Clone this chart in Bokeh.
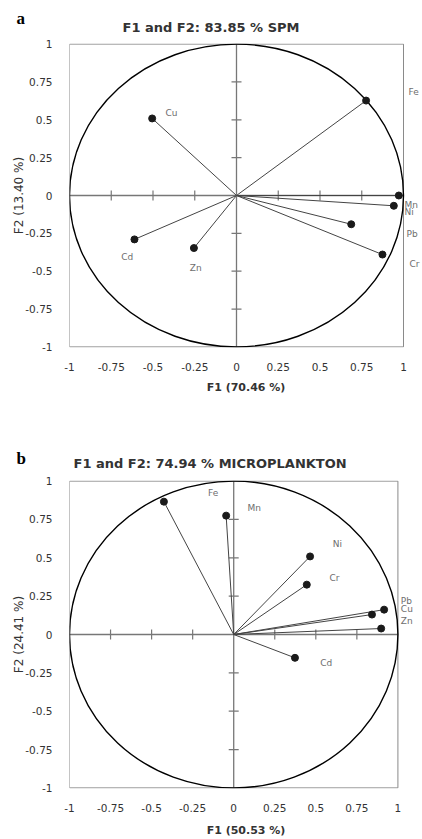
import math
from bokeh.plotting import figure
from bokeh.layouts import column
from bokeh.models import Range1d, FixedTicker, Title
from bokeh.core.properties import value
from bokeh.embed import file_html
from bokeh.resources import INLINE

# ---------------- data ----------------
ticks = [-1, -0.75, -0.5, -0.25, 0, 0.25, 0.5, 0.75, 1]
tick_labels = ["-1", "-0.75", "-0.5", "-0.25", "0", "0.25", "0.5", "0.75", "1"]
inner_ticks = [-0.75, -0.5, -0.25, 0.25, 0.5, 0.75]

# Panel a: SPM
a_vars = ["Fe", "Cu", "Mn", "Ni", "Pb", "Cr", "Cd", "Zn"]
a_f1 = [0.776, -0.505, 0.972, 0.942, 0.687, 0.874, -0.611, -0.255]
a_f2 = [0.627, 0.509, 0.0, -0.068, -0.19, -0.39, -0.29, -0.347]
a_lab_x = [1.03, -0.425, 1.006, 1.006, 1.018, 1.036, -0.69, -0.28]
a_lab_y = [0.684, 0.546, -0.066, -0.11, -0.257, -0.454, -0.408, -0.48]
a_title = "F1 and F2: 83.85 % SPM"
a_xlab = "F1 (70.46 %)"
a_ylab = "F2 (13.40 %)"

# Panel b: Microplankton
b_vars = ["Fe", "Mn", "Ni", "Cr", "Pb", "Cu", "Zn", "Cd"]
b_f1 = [-0.425, -0.046, 0.465, 0.445, 0.916, 0.842, 0.898, 0.373]
b_f2 = [0.866, 0.775, 0.509, 0.325, 0.162, 0.130, 0.039, -0.152]
b_lab_x = [-0.156, 0.084, 0.603, 0.583, 1.018, 1.018, 1.018, 0.527]
b_lab_y = [0.922, 0.825, 0.59, 0.367, 0.216, 0.169, 0.088, -0.184]
b_title = "F1 and F2: 74.94 % MICROPLANKTON"
b_xlab = "F1 (50.53 %)"
b_ylab = "F2 (24.41 %)"

W = 422
UNIT = 167.0
FONT = "DejaVu Sans"


def panel(vars_, f1, f2, lx, ly, title, t_off, t_stand, xlab, ylab, xlab_stand,
          height, left, top, frame_h, letter, l_off, l_stand):
    frame_w = W - left
    x_end = -1 + frame_w / UNIT
    p = figure(width=W, height=height, output_backend="svg", toolbar_location=None,
               x_range=Range1d(-1, x_end), y_range=Range1d(-1.004, 1.004),
               min_border_left=left, min_border_right=0,
               min_border_top=top, min_border_bottom=height - top - frame_h)
    p.outline_line_color = None
    p.grid.visible = False
    p.background_fill_color = "white"

    # panel letter (outermost title)
    p.title.text = letter
    p.title.align = "left"
    p.title.offset = l_off
    p.title.text_font = "Liberation Serif"
    p.title.text_font_size = "17px"
    p.title.text_font_style = "bold"
    p.title.text_color = "black"
    try:
        p.title.standoff = l_stand
    except Exception:
        p.title.standoff = 0

    # chart title (next to the frame)
    p.add_layout(Title(text=title, align="left", offset=t_off, standoff=t_stand,
                       text_font=FONT, text_font_size="13px", text_font_style="bold",
                       text_color="#333333"), "above")

    for ax in (p.xaxis[0], p.yaxis[0]):
        ax.ticker = FixedTicker(ticks=ticks)
        ax.major_label_overrides = {float(t): s for t, s in zip(ticks, tick_labels)}
        ax.major_tick_line_color = None
        ax.minor_tick_line_color = None
        ax.axis_line_color = None
        ax.major_label_text_font = FONT
        ax.major_label_text_font_size = "10.5px"
        ax.major_label_text_color = "#333333"
        ax.axis_label_text_font = FONT
        ax.axis_label_text_color = "#333333"
    p.xaxis.major_label_standoff = 9
    p.yaxis.major_label_standoff = 11
    p.xaxis.axis_label = xlab
    p.xaxis.axis_label_text_font_style = "bold"
    p.xaxis.axis_label_text_font_size = "11px"
    p.xaxis.axis_label_standoff = xlab_stand
    p.yaxis.axis_label = ylab
    p.yaxis.axis_label_text_font_style = "normal"
    p.yaxis.axis_label_text_font_size = "12px"
    p.yaxis.axis_label_standoff = -4

    p.quad(left=[-1], right=[1], bottom=[-1], top=[1], fill_color=None,
           line_color="#8a8a8a", line_width=1)
    p.segment(x0=[-1, 0], y0=[0, -1], x1=[1, 0], y1=[0, 1], line_color="#777777",
              line_width=1.3)
    p.scatter(x=inner_ticks, y=[0] * len(inner_ticks), marker="dash", size=10,
              angle=math.pi / 2, line_color="#777777", line_width=1.2)
    p.scatter(x=[0] * len(inner_ticks), y=inner_ticks, marker="dash", size=10,
              line_color="#777777", line_width=1.2)
    p.ellipse(x=[0], y=[0], width=[2], height=[2], fill_color=None,
              line_color="black", line_width=1.4)
    n = len(vars_)
    p.segment(x0=[0] * n, y0=[0] * n, x1=f1, y1=f2, line_color="#444444", line_width=1)
    p.scatter(x=f1, y=f2, size=7, marker="circle", fill_color="#1a1a1a",
              line_color="#1a1a1a")
    p.text(x=lx, y=ly, text=vars_, text_font=value(FONT), text_font_size="9px",
           text_color="#6e6e6e", text_align="left", text_baseline="middle")
    return p


pa = panel(a_vars, a_f1, a_f2, a_lab_x, a_lab_y, a_title, 53, 17, a_xlab, a_ylab, 7,
           height=400, left=69, top=43, frame_h=304, letter="a", l_off=-53, l_stand=-36)
pb = panel(b_vars, b_f1, b_f2, b_lab_x, b_lab_y, b_title, 4, 19, b_xlab, b_ylab, 9,
           height=439, left=63, top=80, frame_h=308, letter="b", l_off=-53, l_stand=-46)

layout = column(pa, pb, spacing=0)
open("out.html", "w").write(file_html(layout, INLINE))
